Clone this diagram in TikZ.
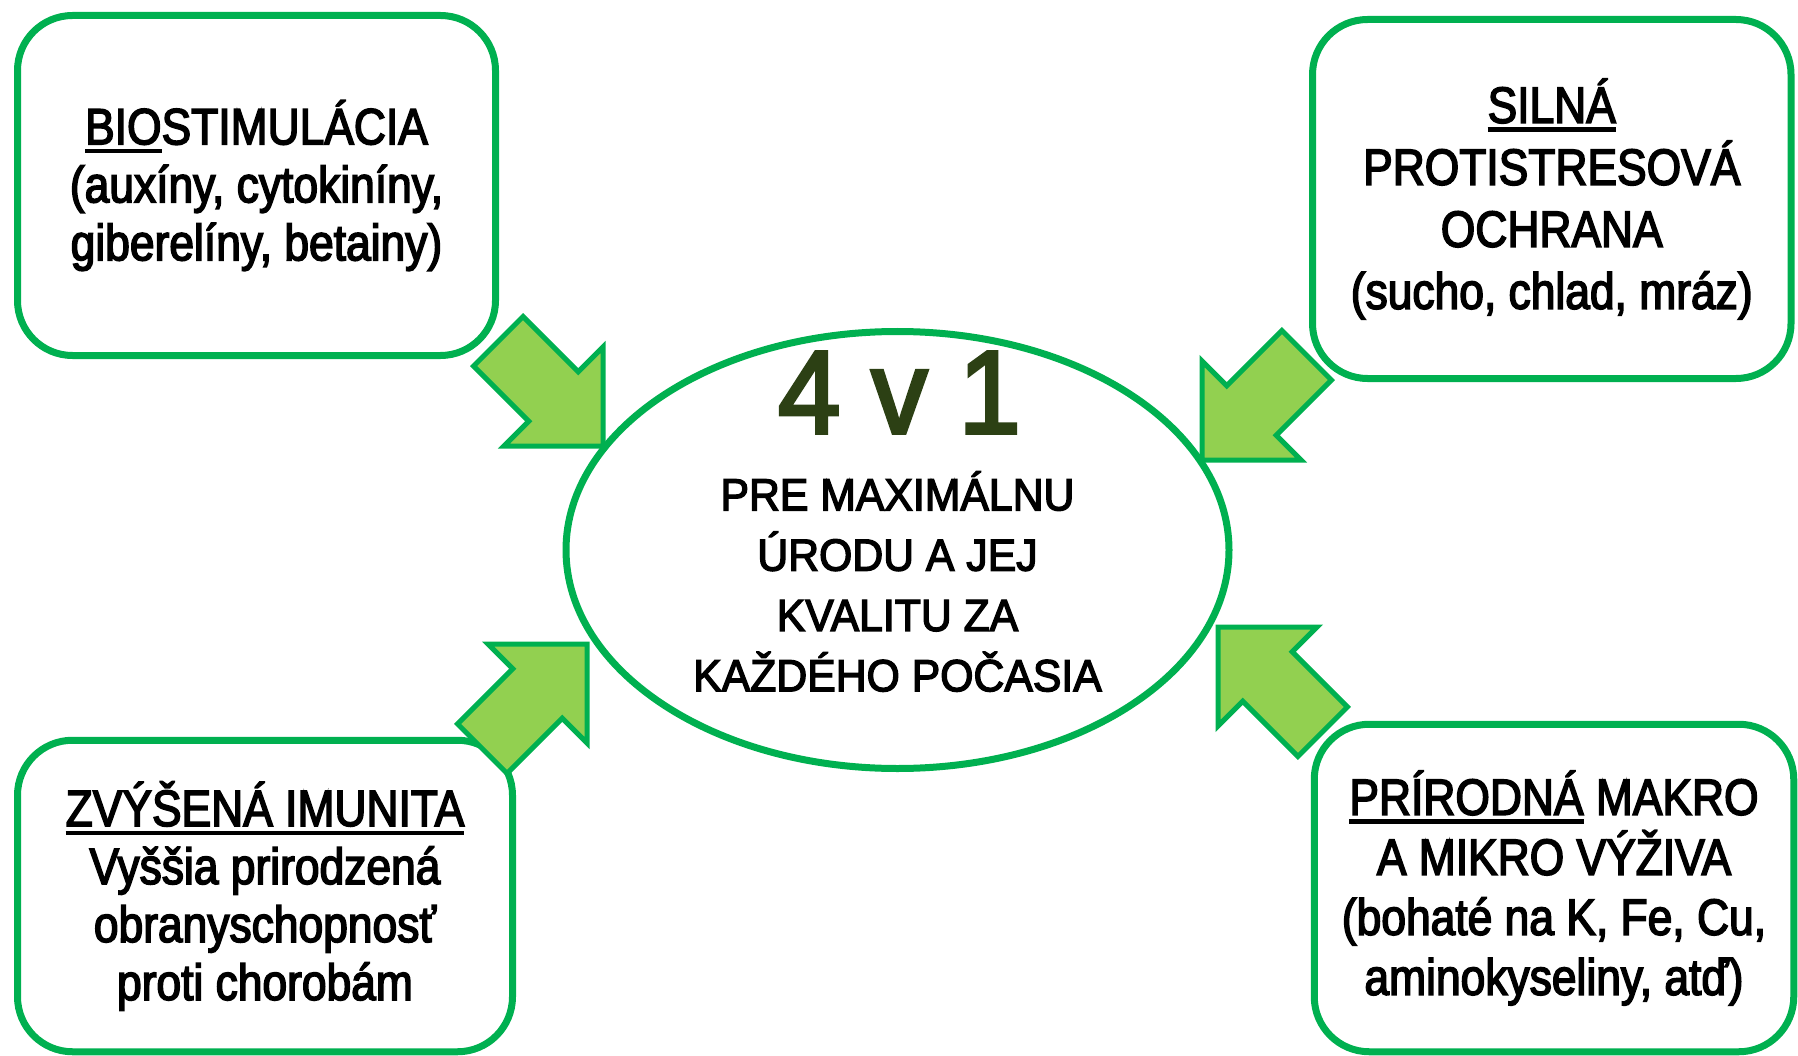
\documentclass[tikz,border=0pt]{standalone}
\usepackage{fontspec}
\setmainfont{Liberation Sans}
\newfontfamily\cardfont{Liberation Sans}[FakeStretch=0.87, FakeBold=3]
\newfontfamily\ovalfont{Liberation Sans}[FakeStretch=0.95, FakeBold=3]
\usetikzlibrary{shapes.geometric}
\definecolor{framegreen}{RGB}{0,176,80}
\definecolor{arrowgreen}{RGB}{146,208,80}
\definecolor{titlegreen}{RGB}{44,64,20}
\newcommand{\undl}[1]{\setbox0\hbox{#1}\rlap{\rule[-9pt]{\wd0}{4.5pt}}\box0\relax}
\tikzset{
    card/.style={
        draw=framegreen, line width=7pt, rounded corners=55pt,
        align=center, inner sep=0pt,
        font=\cardfont\fontsize{51}{58}\selectfont
    },
    oval/.style={ellipse, draw=framegreen, line width=7pt, inner sep=0pt},
    fatarrow/.style={fill=arrowgreen, draw=framegreen, line width=5pt, line join=miter}
}
\newcommand{\pointer}[2]{%
    \begin{scope}[shift={(#1)}, rotate=#2]
        \draw[fatarrow] (0,0) -- (-70,70) -- (-70,35) -- (-148,35)
            -- (-148,-35) -- (-70,-35) -- (-70,-70) -- cycle;
    \end{scope}
}

\begin{document}
\begin{tikzpicture}[x=1pt, y=-1pt]

    \path[fill=white, use as bounding box] (0,0) rectangle (1798,1056);

    \node[card, minimum width=478pt, minimum height=340pt] (bio) at (256.5,185.5)
        {\undl{BIO}STIMULÁCIA\\(auxíny, cytokiníny,\\giberelíny, betainy)};

    \node[card, minimum width=478.5pt, minimum height=359pt,
        font=\cardfont\fontsize{51}{62}\selectfont] (stress) at (1551.75,199)
        {\undl{SILNÁ}\\PROTISTRESOVÁ\\OCHRANA\\(sucho, chlad, mráz)};

    \node[card, minimum width=495pt, minimum height=311.5pt] (immune) at (265,896)
        {\undl{ZVÝŠENÁ IMUNITA}\\Vyššia prirodzená\\obranyschopnosť\\proti chorobám};

    \node[card, minimum width=479.5pt, minimum height=327.5pt,
        font=\cardfont\fontsize{51}{60}\selectfont] (feed) at (1554,888)
        {\undl{PRÍRODNÁ} MAKRO\\A MIKRO VÝŽIVA\\(bohaté na K, Fe, Cu,\\aminokyseliny, atď)};

    % arrows point into the oval
    \coordinate (bio-tip) at (603,446);
    \coordinate (stress-tip) at (1202,460);
    \coordinate (immune-tip) at (587,644);
    \coordinate (feed-tip) at (1218,627);
    \pointer{bio-tip}{-45}
    \pointer{stress-tip}{-135}
    \pointer{immune-tip}{45}
    \pointer{feed-tip}{135}

    \node[oval, minimum width=663pt, minimum height=437pt] (core) at (897.5,550) {};

    \node[anchor=base, inner sep=0pt, text=titlegreen,
        font=\ovalfont\fontsize{118}{118}\selectfont] (num) at (899.5,433) {4 v 1};

    \node[align=center, inner sep=0pt, font=\ovalfont\fontsize{45}{60.3}\selectfont]
        (goal) at (897.5,581.5)
        {PRE MAXIMÁLNU\\ÚRODU A JEJ\\KVALITU ZA\\KAŽDÉHO POČASIA};

\end{tikzpicture}
\end{document}
